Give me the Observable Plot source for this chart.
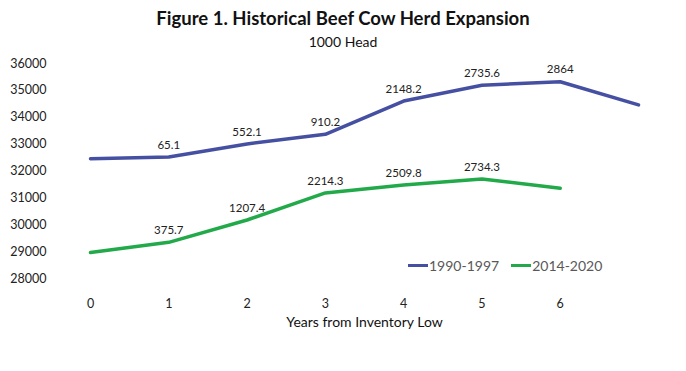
<!DOCTYPE html>
<html>
<head>
<meta charset="utf-8">
<script src="https://cdn.jsdelivr.net/npm/d3@7"></script>
<script src="https://cdn.jsdelivr.net/npm/@observablehq/plot@0.6"></script>
<style>
  body { margin: 0; background: #fff; font-family: Lato, "Open Sans", sans-serif; }
  #wrap { position: relative; width: 686px; height: 371px; overflow: hidden; }
  #title { position: absolute; top: 7px; left: 0; width: 686px; text-align: center; font-weight: bold; font-size: 18.5px; color: #111; }
  #subtitle { position: absolute; top: 33px; left: 0; width: 686px; text-align: center; font-size: 14px; color: #111; }
  #chart { position: absolute; top: 50px; left: 0; }
  #legend { position: absolute; top: 257px; left: 408px; font-size: 14px; color: #595959; display: flex; align-items: center; }
  .sw { display: inline-block; width: 20px; height: 3px; margin-right: 1px; }
  .item { display: flex; align-items: center; margin-right: 12px; }
</style>
</head>
<body>
<div id="wrap">
  <div id="title">Figure 1. Historical Beef Cow Herd Expansion</div>
  <div id="subtitle">1000 Head</div>
  <div id="chart"></div>
  <div id="legend"></div>
</div>
<script>
const years = [0, 1, 2, 3, 4, 5, 6, 7];
const xTicks = [0, 1, 2, 3, 4, 5, 6];
const yTicks = [28000, 29000, 30000, 31000, 32000, 33000, 34000, 35000, 36000];
const seriesNames = ["1990-1997", "2014-2020"];
const seriesColors = ["#4650A2", "#22AA4A"];
const blueValues = [32455, 32520.1, 33007.1, 33365.2, 34603.2, 35190.6, 35319, 34460];
const blueLabels = [null, "65.1", "552.1", "910.2", "2148.2", "2735.6", "2864", null];
const greenValues = [28970, 29345.7, 30177.4, 31184.3, 31479.8, 31704.3, 31360];
const greenLabels = [null, "375.7", "1207.4", "2214.3", "2509.8", "2734.3", null];

const rows = [];
blueValues.forEach((v, i) => rows.push({series: seriesNames[0], x: years[i], y: v, label: blueLabels[i]}));
greenValues.forEach((v, i) => rows.push({series: seriesNames[1], x: years[i], y: v, label: greenLabels[i]}));

const chart = Plot.plot({
  width: 686,
  height: 321,
  marginLeft: 90,
  marginRight: 48,
  marginTop: 13,
  marginBottom: 93,
  style: {fontFamily: "Lato, 'Open Sans', sans-serif", background: "transparent"},
  x: {domain: [0, 7]},
  y: {domain: [28000, 36000]},
  color: {domain: seriesNames, range: seriesColors},
  marks: [
    Plot.axisY({ticks: yTicks, tickSize: 0, tickPadding: 44, tickFormat: d => String(d), fontSize: 12.5, color: "#222", label: null}),
    Plot.axisX({ticks: xTicks, tickSize: 0, tickPadding: 21, tickFormat: d => String(d), fontSize: 12.5, color: "#222", label: null}),
    Plot.line(rows, {x: "x", y: "y", z: "series", stroke: "series", strokeWidth: 3.5, curve: "linear"}),
    Plot.text(rows.filter(d => d.label), {x: "x", y: "y", text: "label", dy: -12, fontSize: 11.5, fill: "#222"}),
    Plot.text(["Years from Inventory Low"], {frameAnchor: "bottom", dy: 48, fontSize: 14, fill: "#111"})
  ]
});
document.getElementById("chart").appendChild(chart);

const legend = document.getElementById("legend");
seriesNames.forEach((n, i) => {
  const item = document.createElement("span");
  item.className = "item";
  const sw = document.createElement("span");
  sw.className = "sw";
  sw.style.background = seriesColors[i];
  item.appendChild(sw);
  item.appendChild(document.createTextNode(n));
  legend.appendChild(item);
});
</script>
</body>
</html>
